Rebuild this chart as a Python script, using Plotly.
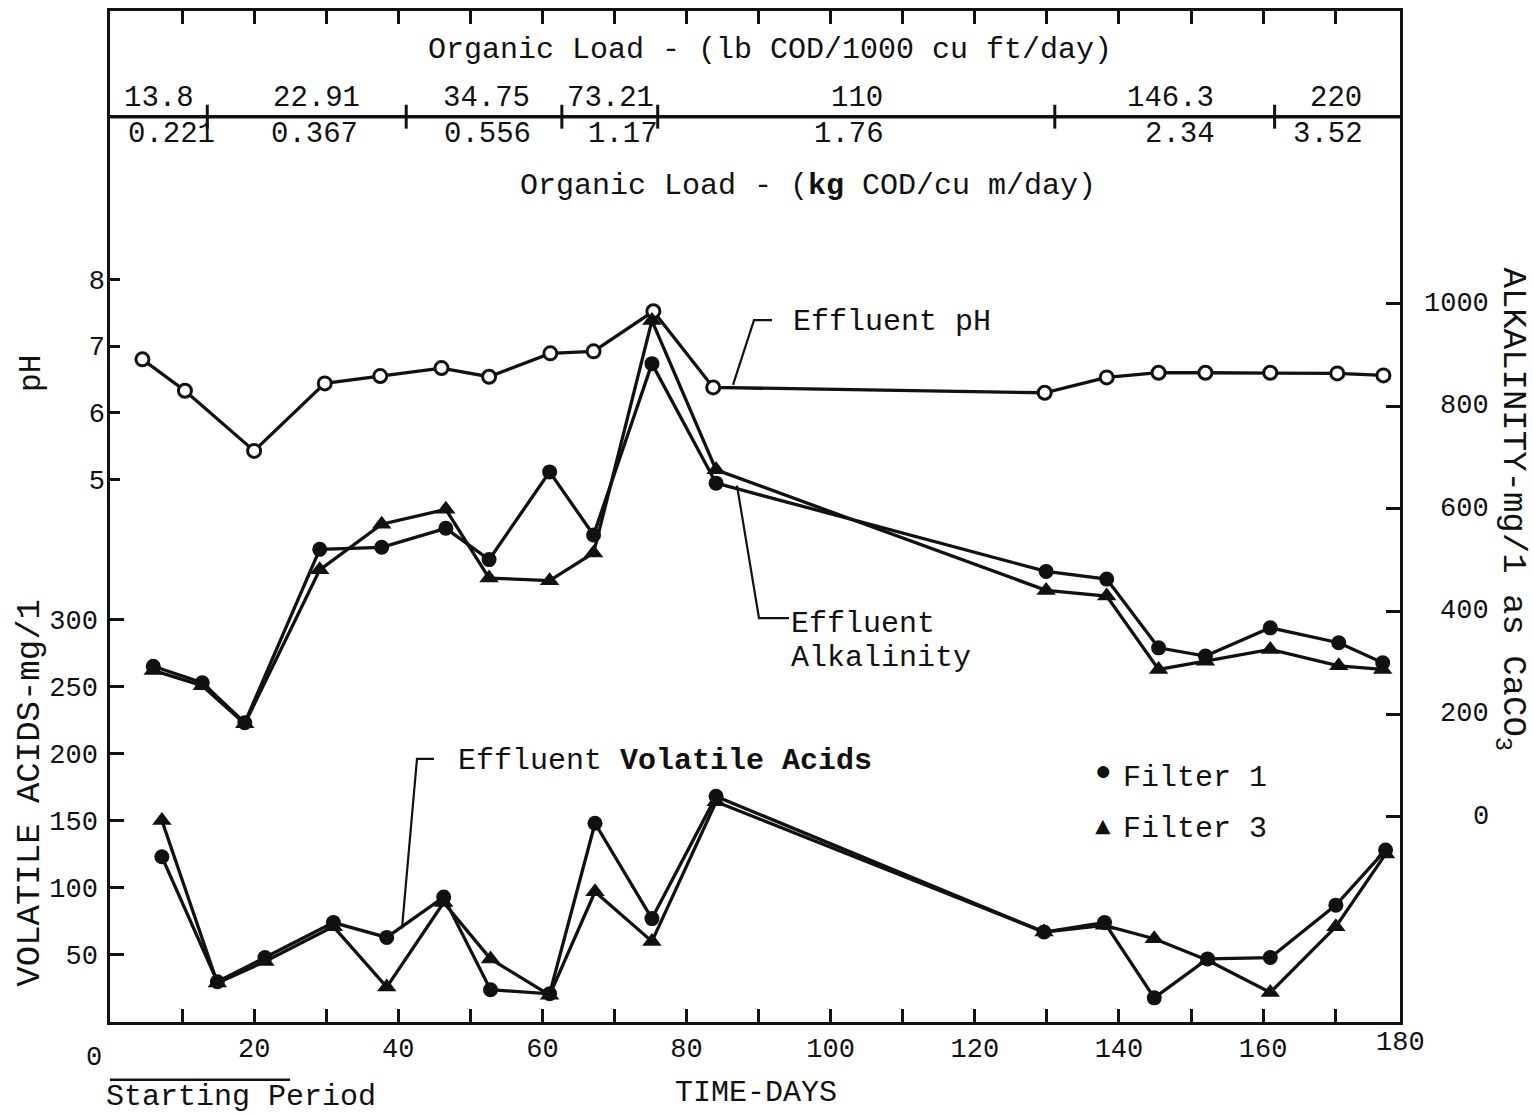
import plotly.graph_objects as go

# ---------------- data ----------------
ph_days = [4.5, 10.4, 20.0, 29.8, 37.5, 46.0, 52.6, 61.1, 67.1, 75.4, 83.7,
           129.7, 138.3, 145.5, 152.0, 161.0, 170.3, 176.7]
ph_values = [6.80, 6.33, 5.43, 6.44, 6.55, 6.67, 6.54, 6.89, 6.92, 7.52, 6.38,
             6.30, 6.53, 6.60, 6.60, 6.60, 6.59, 6.56]

alk_days = [6.0, 12.8, 18.7, 29.1, 37.7, 46.6, 52.6, 61.0, 67.1, 75.2, 84.1,
            129.9, 138.3, 145.5, 152.0, 161.0, 170.5, 176.6]
alk_filter1 = [293, 261, 183, 521, 525, 562, 501, 672, 549, 883, 650,
               478, 463, 329, 313, 368, 339, 300]
alk_filter3 = [285, 255, 181, 481, 570, 599, 465, 460, 514, 967, 676,
               441, 430, 287, 303, 326, 294, 287]

va_days = [7.2, 14.9, 21.5, 31.0, 38.4, 46.3, 52.8, 61.0, 67.3, 75.2, 84.1,
           129.6, 138.0, 144.9, 152.3, 161.0, 170.1, 177.0]
va_filter1 = [123, 30, 48, 74, 63, 93, 24, 21, 148, 77, 168,
              67, 74, 18, 47, 48, 87, 128]
va_filter3 = [150, 29, 45, 71, 26, 89, 47, 20, 97, 60, 164,
              67, 72, 62, 46, 22, 71, 125]

load_lb = ["13.8", "22.91", "34.75", "73.21", "110", "146.3", "220"]
load_kg = ["0.221", "0.367", "0.556", "1.17", "1.76", "2.34", "3.52"]
load_change_days = [13.5, 41.1, 62.7, 76.0, 131.1, 161.6]

x_major_ticks = list(range(20, 180, 20))
x_minor_ticks = list(range(10, 180, 20))
ph_ticks = [5, 6, 7, 8]
va_ticks = [50, 100, 150, 200, 250, 300]
alk_ticks = [0, 200, 400, 600, 800, 1000]

# ---------------- layout geometry (pixels) ----------------
W, H = 1533, 1114
L, R, T, B = 110, 1400, 8, 1022          # plot area edges
PW, PH = R - L, B - T
X_MAX = 179.0

# pixel anchors of the three vertical scales
va_px_per = 1.347; va_zero_px = 1022
ph8_px, ph_px_per = 277, 67.0
alk0_px, alk_px_per = 816, 0.5145

va_range = [(va_zero_px - B) / va_px_per, (va_zero_px - T) / va_px_per]
ph_range = [8 - (B - ph8_px) / ph_px_per, 8 - (T - ph8_px) / ph_px_per]
alk_range = [(alk0_px - B) / alk_px_per, (alk0_px - T) / alk_px_per]

# label positions for organic-load bands (days)
lb_pos = [6.8, 28.7, 52.2, 69.5, 103.6, 147.2, 170.1]
kg_pos = [8.5, 28.4, 52.4, 71.2, 102.5, 148.5, 169.0]


def px(x):
    return (x - L) / PW


def py(y):
    return (B - y) / PH


FONT = "Liberation Mono, Courier New, monospace"
BLACK = "#111111"

fig = go.Figure()

line_style = dict(color=BLACK, width=3.3)

fig.add_trace(go.Scatter(x=va_days, y=va_filter1, mode="lines+markers", yaxis="y",
                         line=line_style, marker=dict(symbol="circle", size=15, color=BLACK),
                         showlegend=False, cliponaxis=False))
fig.add_trace(go.Scatter(x=va_days, y=va_filter3, mode="lines+markers", yaxis="y",
                         line=line_style, marker=dict(symbol="triangle-up", size=17, color=BLACK),
                         showlegend=False, cliponaxis=False))
fig.add_trace(go.Scatter(x=alk_days, y=alk_filter1, mode="lines+markers", yaxis="y3",
                         line=line_style, marker=dict(symbol="circle", size=15, color=BLACK),
                         showlegend=False, cliponaxis=False))
fig.add_trace(go.Scatter(x=alk_days, y=alk_filter3, mode="lines+markers", yaxis="y3",
                         line=line_style, marker=dict(symbol="triangle-up", size=17, color=BLACK),
                         showlegend=False, cliponaxis=False))
fig.add_trace(go.Scatter(x=ph_days, y=ph_values, mode="lines+markers", yaxis="y2",
                         line=line_style,
                         marker=dict(symbol="circle", size=13, color="white",
                                     line=dict(color=BLACK, width=3)),
                         showlegend=False, cliponaxis=False))

axis_common = dict(showgrid=False, zeroline=False, ticks="inside", tickwidth=2.5,
                   tickcolor=BLACK, linecolor=BLACK,
                   tickfont=dict(family=FONT, size=27, color=BLACK))

fig.update_layout(
    width=W, height=H,
    margin=dict(l=L, r=W - R, t=T, b=H - B, pad=0),
    paper_bgcolor="white", plot_bgcolor="white",
    showlegend=False,
    xaxis=dict(range=[0, X_MAX], tickvals=x_major_ticks, ticklen=13,
               minor=dict(tickvals=x_minor_ticks, ticks="inside", ticklen=13,
                          tickwidth=2.5, tickcolor=BLACK, showgrid=False),
               showline=True, linewidth=2.5, mirror="allticks", **axis_common),
    yaxis=dict(range=va_range, tickvals=va_ticks, ticklen=14, showline=True,
               linewidth=2.5, ticklabelstandoff=4, **axis_common),
    yaxis2=dict(range=ph_range, tickvals=ph_ticks, ticklen=10, overlaying="y",
                side="left", showline=False, ticklabelstandoff=4, **axis_common),
    yaxis3=dict(range=alk_range, tickvals=alk_ticks, ticklen=14, overlaying="y",
                side="right", showline=True, linewidth=2.5, showticklabels=False,
                **axis_common),
)

annotations = []
shapes = []


def text(x, y, s, size=30, xanchor="center", angle=0):
    annotations.append(dict(x=x, y=y, xref="paper", yref="paper", text=s,
                            showarrow=False, xanchor=xanchor, yanchor="middle",
                            textangle=angle,
                            font=dict(family=FONT, size=size, color=BLACK)))


# right-aligned alkalinity tick labels
for v in alk_ticks:
    annotations.append(dict(x=px(1491), y=v, xref="paper", yref="y3", text=str(v),
                            showarrow=False, xanchor="right", yanchor="middle",
                            font=dict(family=FONT, size=27, color=BLACK)))

# x-axis extra labels
text(px(1400), py(1043), "180", size=27)
text(px(94), py(1058), "0", size=27)
text(px(756), py(1093), "TIME-DAYS", size=30)
text(px(241), py(1097), "Starting Period", size=30)
shapes.append(dict(type="line", xref="paper", yref="paper", x0=px(110), x1=px(290),
                   y0=py(1080), y1=py(1080), line=dict(color=BLACK, width=2.5)))

# axis titles
text(px(32), py(372), "pH", size=31, angle=-90)
text(px(30), py(792), "VOLATILE ACIDS-mg/1", size=34, angle=-90)
text(px(1511), py(508), "ALKALINITY-mg/1 as CaCO<sub>3</sub>", size=34, angle=90)

# organic load header
text(px(770), py(47), "Organic Load - (lb COD/1000 cu ft/day)", size=30)
text(px(808), py(184), "Organic Load - (<b>kg</b> COD/cu m/day)", size=30)
shapes.append(dict(type="line", xref="paper", yref="paper", x0=0, x1=1,
                   y0=py(114), y1=py(114), line=dict(color=BLACK, width=3.5)))
for d in load_change_days:
    shapes.append(dict(type="line", xref="x", yref="paper", x0=d, x1=d,
                       y0=py(102), y1=py(126), line=dict(color=BLACK, width=3)))
for s, d in zip(load_lb, lb_pos):
    annotations.append(dict(x=d, y=py(96), xref="x", yref="paper", text=s,
                            showarrow=False, xanchor="center", yanchor="middle",
                            font=dict(family=FONT, size=29, color=BLACK)))
for s, d in zip(load_kg, kg_pos):
    annotations.append(dict(x=d, y=py(132), xref="x", yref="paper", text=s,
                            showarrow=False, xanchor="center", yanchor="middle",
                            font=dict(family=FONT, size=29, color=BLACK)))

# callouts
text(px(791), py(320), "Effluent pH", xanchor="left")
text(px(789), py(623), "Effluent", xanchor="left")
text(px(789), py(657), "Alkalinity", xanchor="left")
text(px(456), py(760), "Effluent <b>Volatile Acids</b>", xanchor="left")


def leader(pts):
    path = "M " + " L ".join(f"{px(a)},{py(b)}" for a, b in pts)
    shapes.append(dict(type="path", xref="paper", yref="paper", path=path,
                       line=dict(color=BLACK, width=2.2)))


leader([(772, 318), (754, 318), (733, 383)])
leader([(789, 617), (759, 617), (737, 484)])
leader([(434, 758), (417, 758), (402, 928)])

# legend
text(px(1103), py(772), "●", size=28)
text(px(1103), py(827), "▲", size=26)
text(px(1121), py(777), "Filter 1", xanchor="left")
text(px(1121), py(828), "Filter 3", xanchor="left")

fig.update_layout(annotations=annotations, shapes=shapes)

fig.write_html("out.html",
               config={"displayModeBar": False},
               post_script="document.body.style.margin='0';document.body.style.overflow='hidden';")
